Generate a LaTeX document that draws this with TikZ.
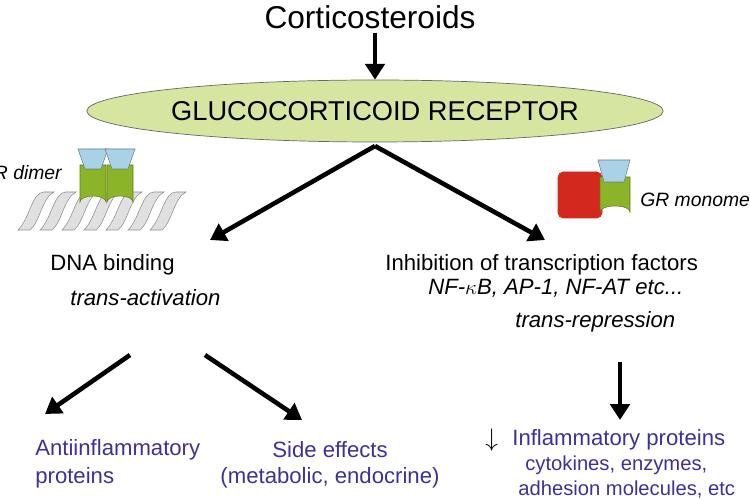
\documentclass[tikz,border=0pt]{standalone}
\usepackage{fontspec}
\setmainfont{Liberation Sans}
\usetikzlibrary{arrows.meta,shapes.geometric}
\definecolor{ellgreen}{RGB}{214,230,160}
\definecolor{grgreen}{RGB}{140,180,40}
\definecolor{grblue}{RGB}{170,210,230}
\definecolor{grred}{RGB}{210,40,30}
\definecolor{protblue}{RGB}{60,50,150}
\newcommand{\fs}{\fontsize{12.6}{15}\selectfont}
\newcommand{\fsm}{\fontsize{11.5}{14}\selectfont}
\tikzset{
  bigarrow/.style={line width=2.6pt, -{Triangle[length=9pt,width=11pt]}},
  label/.style={inner sep=0pt, font=\fs},
  prot/.style={label, text=protblue},
  cyl/.style={fill=grgreen, draw=grgreen!70!black, line width=0.3pt},
  grcap/.style={fill=grblue, draw=grblue!60!black, line width=0.3pt}
}
\begin{document}
\begin{tikzpicture}[x=0.02cm, y=-0.02cm]
  \useasboundingbox (0,0) rectangle (750,499);
  \clip (0,0) rectangle (750,499);

  % top
  \node[label, font=\fontsize{18}{21}\selectfont] (cort) at (370,17) {Corticosteroids};
  \node[ellipse, draw=black!60, fill=ellgreen, minimum width=510*0.02cm,
        minimum height=62*0.02cm, inner sep=0pt,
        font=\fontsize{15.5}{18}\selectfont] (gr) at (375,111) {GLUCOCORTICOID RECEPTOR};
  \coordinate (c0) at (375,33);
  \coordinate (grb) at (375,146);
  \draw[bigarrow] (c0) -- (gr.north);

  % middle
  \node[label, anchor=west] (dna) at (50,265) {DNA binding};
  \node[label, anchor=west, font=\fs\itshape] (tact) at (70,298) {trans-activation};
  \node[label, anchor=west] (inh) at (385,265) {Inhibition of transcription factors};
  \node[label, anchor=west, font=\fs\itshape] (nfkb) at (428,288) {NF-$\kappa$B, AP-1, NF-AT etc...};
  \node[label, anchor=west, font=\fs\itshape] (trep) at (515,322) {trans-repression};
  \coordinate (dnatop) at (210,240);
  \coordinate (inhtop) at (545,240);
  \draw[bigarrow] (grb) -- (dnatop);
  \draw[bigarrow] (grb) -- (inhtop);

  % bottom
  \coordinate (l0) at (130,355);
  \coordinate (r0) at (205,355);
  \coordinate (t0) at (620,362);
  \node[prot, anchor=west] (anti) at (35,450) {Antiinflammatory};
  \node[prot, anchor=west] (anti2) at (35,478) {proteins};
  \node[prot] (side) at (330,450) {Side effects};
  \node[prot] (side2) at (330,478) {(metabolic, endocrine)};
  \node[label, anchor=west, font=\fontsize{15}{18}\selectfont] (down) at (485,440) {$\downarrow$};
  \node[prot, anchor=west] (infl) at (512,440) {Inflammatory proteins};
  \node[prot, anchor=west, font=\fsm] (cyto) at (525,465) {cytokines, enzymes,};
  \node[prot, anchor=west, font=\fsm] (adh) at (518,489) {adhesion molecules, etc};
  \draw[bigarrow] (l0) -- (45,414);
  \draw[bigarrow] (r0) -- (302,420);
  \draw[bigarrow] (t0) -- (620,420);

  % GR dimer on DNA
  \foreach \i in {0,...,6}
    \draw[fill=black!12, draw=black!45, line width=0.3pt]
      (18+22*\i,230) .. controls (30+22*\i,218) and (32+22*\i,192) .. (44+22*\i,192)
      -- (54+22*\i,192) .. controls (42+22*\i,198) and (40+22*\i,222) .. (30+22*\i,230) -- cycle;
  \foreach \x in {80,107} {
    \draw[cyl] (\x,165) -- (\x,202) arc[start angle=180, end angle=360, x radius=13, y radius=6]
      -- (\x+26,165) -- cycle;
    \draw[grcap] (\x-2,149) -- (\x+28,149) -- (\x+21,169) -- (\x+5,169) -- cycle;
  }
  \node[label, anchor=east, font=\fontsize{11}{13}\selectfont\itshape] (dimer) at (62,173) {GR dimer};

  % GR monomer
  \draw[fill=grred, draw=grred, rounded corners=3pt] (558,172) rectangle (602,218);
  \draw[cyl] (600,177) -- (600,212) arc[start angle=180, end angle=360, x radius=15, y radius=6]
    -- (630,177) -- cycle;
  \draw[grcap] (598,160) -- (630,160) -- (624,182) -- (604,182) -- cycle;
  \node[label, anchor=west, font=\fontsize{11}{13}\selectfont\itshape] (mono) at (640,200) {GR monomer};
\end{tikzpicture}
\end{document}
